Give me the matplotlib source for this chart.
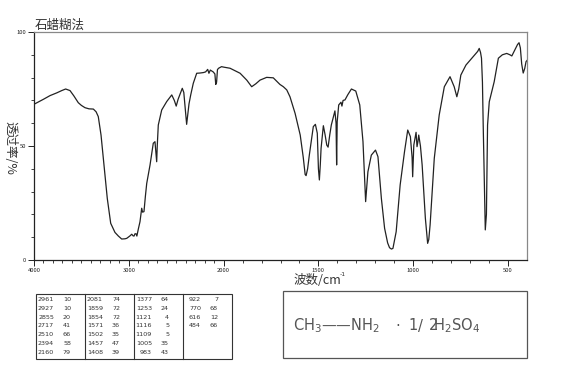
import matplotlib
matplotlib.use("Agg")
import matplotlib.pyplot as plt
from matplotlib.patches import Rectangle
from matplotlib.ticker import FixedLocator
import numpy as np

plt.rcParams['font.family'] = ['Noto Sans CJK SC', 'DejaVu Sans']

# Spectrum (wavenumber in cm-1, transmittance in %)
wavenumber = [
    4000, 3900, 3831, 3760, 3708, 3666, 3620, 3580, 3533, 3500, 3462, 3420,
    3374, 3345, 3322, 3293, 3262, 3227, 3191, 3146, 3110, 3075, 3040, 3022,
    2990, 2969, 2955, 2945, 2935, 2924, 2915, 2900, 2882, 2864, 2855, 2840,
    2825, 2811, 2776, 2742, 2724, 2712, 2706, 2700, 2689, 2653, 2600, 2547,
    2520, 2500, 2480, 2436, 2420, 2400, 2390, 2383, 2365, 2347, 2320, 2284,
    2250, 2214, 2190, 2168, 2155, 2140, 2110, 2092, 2083, 2074, 2065, 2053,
    2022, 2000, 1966, 1913, 1878, 1852, 1830, 1808, 1773, 1738, 1703, 1685,
    1667, 1650, 1623, 1596, 1580, 1570, 1565, 1557, 1548, 1527, 1516, 1506,
    1500, 1495, 1490, 1486, 1474, 1465, 1456, 1449, 1440, 1432, 1413, 1407,
    1404, 1401, 1393, 1381, 1376, 1370, 1360, 1345, 1326, 1303, 1282, 1265,
    1251, 1239, 1221, 1199, 1186, 1168, 1151, 1135, 1125, 1115, 1107, 1090,
    1069, 1046, 1029, 1015, 1006, 1003, 999, 997, 985, 980, 975, 971,
    962, 953, 936, 924, 918, 911, 889, 863, 836, 806, 784, 770,
    760, 749, 722, 687, 660, 652, 645, 640, 635, 631, 625, 620,
    614, 608, 599, 573, 551, 530, 507, 490, 480, 465, 450, 442,
    435, 428, 420, 412, 405, 400,
]
transmittance = [
    68.3, 70.5, 72.1, 73.3, 74.3, 75.0, 74.3, 72.0, 69.0, 67.8, 66.8, 66.3,
    66.2, 65.0, 62.9, 54.8, 41.7, 27.0, 16.1, 12.1, 10.5, 9.2, 9.3, 9.5,
    10.5, 11.3, 10.6, 10.5, 11.5, 11.5, 10.5, 13.5, 16.8, 22.7, 21.0, 21.2,
    28.0, 33.6, 41.7, 51.2, 51.9, 46.0, 43.1, 50.0, 59.2, 65.8, 69.5, 72.4,
    70.0, 67.5, 70.5, 75.3, 73.5, 64.0, 59.5, 62.0, 68.5, 72.4, 77.5, 81.9,
    82.0, 82.2, 82.5, 83.6, 81.9, 83.3, 82.5, 81.6, 77.0, 78.0, 83.5, 84.1,
    84.8, 84.6, 84.1, 81.9, 78.9, 76.0, 77.3, 78.9, 80.1, 79.9, 77.0, 76.0,
    74.6, 71.6, 64.3, 54.8, 45.0, 37.5, 37.0, 40.0, 46.0, 58.5, 59.5, 55.6,
    40.0, 35.1, 42.0, 49.0, 58.9, 55.0, 50.4, 49.5, 55.0, 59.2, 65.4, 60.0,
    41.7, 60.7, 68.0, 69.2, 67.5, 70.0, 70.2, 72.5, 75.0, 74.1, 68.0, 51.9,
    25.6, 38.7, 46.0, 48.2, 45.3, 27.0, 13.9, 7.5, 5.4, 4.8, 5.1, 12.4,
    32.9, 47.5, 57.0, 54.1, 45.0, 36.5, 46.0, 50.4, 56.0, 49.7, 52.0, 54.8,
    50.0, 41.7, 18.3, 7.3, 9.0, 15.4, 44.6, 63.6, 76.0, 80.4, 76.0, 71.6,
    75.0, 81.1, 85.5, 88.9, 91.5, 92.8, 91.0, 88.5, 78.0, 59.2, 35.0, 13.2,
    20.0, 59.2, 69.4, 78.2, 88.5, 90.0, 90.6, 90.0, 89.5, 92.0, 94.5, 95.3,
    93.0, 86.0, 82.0, 84.0, 87.0, 87.5,
]

# Peak table, one list per column
peak_wn = [
    [2961, 2927, 2855, 2717, 2510, 2394, 2160],
    [2081, 1859, 1854, 1571, 1502, 1457, 1408],
    [1377, 1253, 1121, 1116, 1109, 1005, 983],
    [922, 770, 616, 484],
]
peak_t = [
    [10, 10, 20, 41, 66, 58, 79],
    [74, 72, 72, 36, 35, 47, 39],
    [64, 24, 4, 5, 5, 35, 43],
    [7, 68, 12, 66],
]

x_major = [4000, 3000, 2000, 1500, 1000, 500]
y_major = [0, 50, 100]


# x axis: 500 cm-1 per unit below 2000, 1000 cm-1 per unit above
def fwd(w):
    w = np.asarray(w, dtype=float)
    return np.where(w < 2000, (w - 400) / 500.0, 3.2 + (w - 2000) / 1000.0)


def inv(u):
    u = np.asarray(u, dtype=float)
    return np.where(u < 3.2, 400 + u * 500.0, 2000 + (u - 3.2) * 1000.0)


W, H = 570, 366
fig = plt.figure(figsize=(W / 100, H / 100), dpi=100)

ax = fig.add_axes([34 / W, 1 - 260 / H, (527 - 34) / W, (260 - 32) / H])
ax.set_xscale('function', functions=(fwd, inv))
ax.plot(wavenumber, transmittance, color='#222222', lw=0.9)
ax.set_xlim(4000, 400)
ax.set_ylim(0, 100)

ax.xaxis.set_major_locator(FixedLocator(x_major))
ax.xaxis.set_minor_locator(FixedLocator(list(range(3900, 400, -100))))
ax.set_xticklabels([str(v) for v in x_major])
ax.yaxis.set_major_locator(FixedLocator(y_major))
ax.yaxis.set_minor_locator(FixedLocator(list(range(10, 100, 10))))
ax.set_yticklabels([str(v) for v in y_major])
ax.tick_params(which='major', length=4, width=0.7, labelsize=4.2, pad=1.5,
               color='#222222', labelcolor='#222222')
ax.tick_params(which='minor', length=2.5, width=0.6, color='#222222')

for side in ('left', 'bottom'):
    ax.spines[side].set_color('#222222')
    ax.spines[side].set_linewidth(0.9)
for side in ('top', 'right'):
    ax.spines[side].set_color('#888888')
    ax.spines[side].set_linewidth(0.9)

fig.text(35 / W, 1 - 32 / H, "石蜡糊法", fontsize=9, color='#333333',
         ha='left', va='bottom')
fig.text(10 / W, 1 - 148 / H, "透过率/%", fontsize=9, color='#333333',
         rotation=270, ha='center', va='center')
fig.text(293 / W, 1 - 280 / H, "波数/cm", fontsize=9, color='#333333',
         ha='left', va='center')
fig.text(340 / W, 1 - 274 / H, "-1", fontsize=4.5, color='#333333',
         ha='left', va='center', family='DejaVu Sans')

# overlay in pixel coordinates for the boxes under the plot
ov = fig.add_axes([0, 0, 1, 1])
ov.set_xlim(0, W)
ov.set_ylim(H, 0)
ov.axis('off')

# peak table
tx0, ty0, col_w, tab_h = 36, 294, 49, 65
ov.add_patch(Rectangle((tx0, ty0), col_w * 4, tab_h, fill=False,
                       edgecolor='#333333', lw=0.8))
for c in range(1, 4):
    ov.plot([tx0 + c * col_w] * 2, [ty0, ty0 + tab_h], color='#333333', lw=0.8)
for c in range(4):
    for r, (wn, t) in enumerate(zip(peak_wn[c], peak_t[c])):
        yy = ty0 + 5.5 + r * 8.8
        ov.text(tx0 + c * col_w + 18, yy, str(wn), fontsize=4.6, color='#333333',
                ha='right', va='center', family='DejaVu Sans')
        ov.text(tx0 + c * col_w + 35, yy, str(t), fontsize=4.6, color='#333333',
                ha='right', va='center', family='DejaVu Sans')

# structure box
ov.add_patch(Rectangle((283, 291), 244, 67, fill=False,
                       edgecolor='#555555', lw=0.9))
formula = dict(fontsize=10.5, color='#555555', va='center', ha='left',
               family='DejaVu Sans')
ov.text(293, 326, r"CH$_\mathregular{3}$——NH$_\mathregular{2}$", **formula)
ov.text(395, 326, "·", **formula)
ov.text(408, 326, "1", **formula)
ov.text(418, 326, "/", **formula)
ov.text(429, 326, "2", **formula)
ov.text(433, 326, r"H$_\mathregular{2}$SO$_\mathregular{4}$", **formula)

fig.savefig("out.png", dpi=100)
